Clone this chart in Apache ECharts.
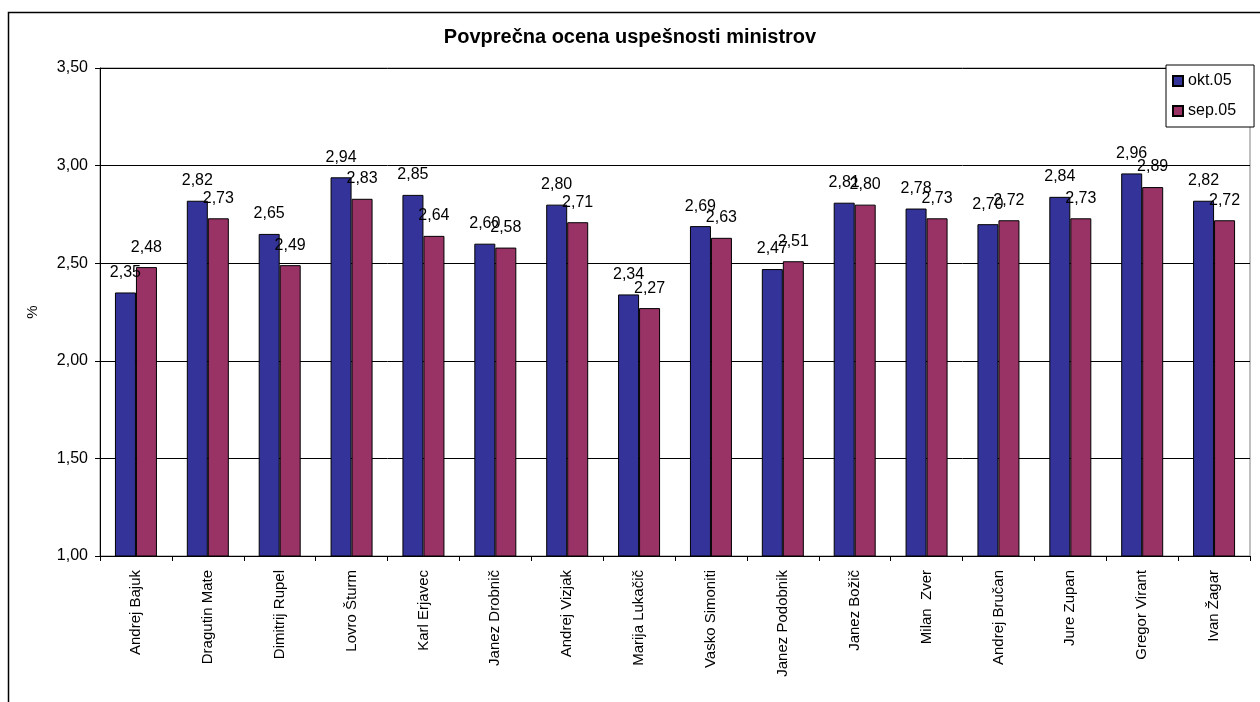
<!DOCTYPE html>
<html>
<head>
<meta charset="utf-8">
<script src="https://cdn.jsdelivr.net/npm/echarts@6/dist/echarts.min.js"></script>
<style>
  html, body { margin: 0; padding: 0; background: #fff; }
  #app { width: 1260px; height: 702px; }
</style>
</head>
<body>
<div id="app"></div>
<script>
const ministri = ['Andrej Bajuk', 'Dragutin Mate', 'Dimitrij Rupel', 'Lovro Šturm', 'Karl Erjavec',
  'Janez Drobnič', 'Andrej Vizjak', 'Marija Lukačič', 'Vasko Simoniti', 'Janez Podobnik',
  'Janez Božič', 'Milan  Zver', 'Andrej Bručan', 'Jure Zupan', 'Gregor Virant', 'Ivan Žagar'];
const okt05 = [2.35, 2.82, 2.65, 2.94, 2.85, 2.60, 2.80, 2.34, 2.69, 2.47, 2.81, 2.78, 2.70, 2.84, 2.96, 2.82];
const sep05 = [2.48, 2.73, 2.49, 2.83, 2.64, 2.58, 2.71, 2.27, 2.63, 2.51, 2.80, 2.73, 2.72, 2.73, 2.89, 2.72];

const font = 'Liberation Sans, Arial, sans-serif';
const fmt = v => v.toFixed(2).replace('.', ',');

function barSeries(name, data, color) {
  return {
    name: name,
    type: 'bar',
    data: data,
    barWidth: 21,
    barGap: 0,
    itemStyle: { color: color, borderColor: '#000', borderWidth: 1 },
    label: {
      show: true,
      position: 'top',
      distance: 12,
      color: '#000',
      fontFamily: font,
      fontSize: 16,
      formatter: p => fmt(p.value)
    }
  };
}

const option = {
  animation: false,
  backgroundColor: '#fff',
  title: {
    text: 'Povprečna ocena uspešnosti ministrov',
    left: 'center',
    top: 22,
    textStyle: { fontFamily: font, fontSize: 20, fontWeight: 'bold', color: '#000' }
  },
  legend: {
    orient: 'vertical',
    left: 1166,
    top: 65,
    padding: [8, 18, 8, 6],
    itemGap: 14,
    itemWidth: 10,
    itemHeight: 10,
    icon: 'rect',
    borderColor: '#000',
    borderWidth: 1,
    backgroundColor: '#fff',
    textStyle: { fontFamily: font, fontSize: 16, color: '#000' },
    data: ['okt.05', 'sep.05']
  },
  graphic: [{
    type: 'rect',
    shape: { x: 8.5, y: 12.5, width: 1300, height: 800 },
    style: { fill: 'none', stroke: '#000', lineWidth: 1.5 },
    silent: true,
    z: -1
  }],
  grid: {
    left: 100,
    right: 10,
    top: 68,
    bottom: 146,
    show: true,
    borderColor: '#808080',
    borderWidth: 1
  },
  xAxis: {
    type: 'category',
    data: ministri,
    axisLine: { lineStyle: { color: '#000', width: 1 } },
    axisTick: { show: true, alignWithLabel: false, length: 5, lineStyle: { color: '#000' } },
    axisLabel: { rotate: 90, margin: 14, interval: 0, color: '#000', fontFamily: font, fontSize: 15 }
  },
  yAxis: {
    type: 'value',
    min: 1,
    max: 3.5,
    interval: 0.5,
    name: '%',
    nameLocation: 'middle',
    nameGap: 60,
    nameRotate: 90,
    nameTextStyle: { fontFamily: font, fontSize: 15, color: '#000' },
    axisLine: { show: true, lineStyle: { color: '#000', width: 1 } },
    axisTick: { show: true, length: 5, lineStyle: { color: '#000' } },
    axisLabel: { margin: 12, color: '#000', fontFamily: font, fontSize: 16, formatter: v => fmt(v) },
    splitLine: { lineStyle: { color: '#000', width: 1 } }
  },
  series: [
    barSeries('okt.05', okt05, '#333399'),
    barSeries('sep.05', sep05, '#993366')
  ]
};

echarts.init(document.getElementById('app')).setOption(option);
</script>
</body>
</html>
